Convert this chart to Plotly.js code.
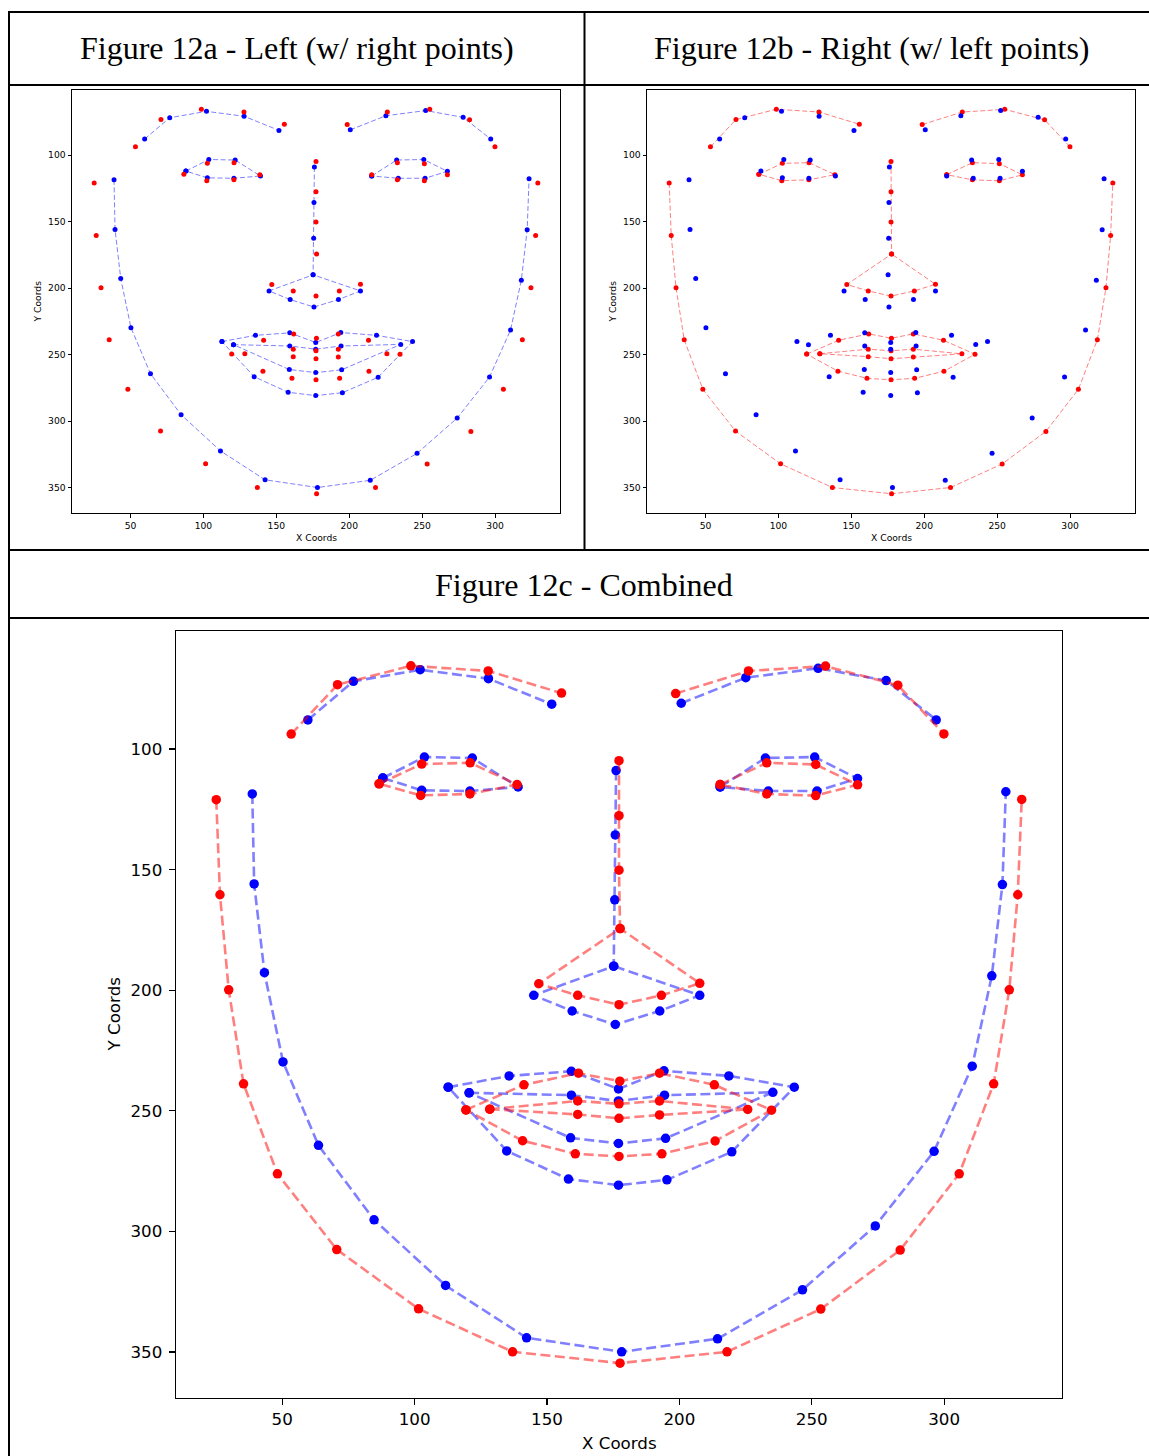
<!DOCTYPE html>
<html>
<head>
<meta charset="utf-8">
<script src="https://cdn.plot.ly/plotly-3.0.1.min.js"></script>
<style>
  html, body { margin: 0; padding: 0; background: #fff; }
  #chart { width: 1149px; height: 1456px; }
</style>
</head>
<body>
<div id="chart"></div>
<script>
// 68-point facial landmarks, left-based face (blue)
const leftX = [38.7, 39.4, 43.3, 50.3, 63.7, 84.7, 111.7, 142.3, 178.2, 214.4, 246.5, 274.0, 296.2, 310.6, 318.0, 322.0, 323.3,
  59.7, 76.9, 102.1, 127.9, 151.8, 200.7, 225.1, 252.4, 278.1, 297.0,
  176.1, 175.8, 175.6, 175.2, 145.0, 159.5, 175.8, 192.6, 207.7,
  88.0, 103.7, 121.8, 139.1, 120.9, 102.7, 215.4, 232.5, 251.1, 267.3, 252.0, 233.6,
  112.7, 135.7, 159.2, 177.0, 194.2, 218.7, 243.4, 219.8, 195.3, 177.0, 158.1, 134.8,
  120.6, 159.2, 177.0, 194.4, 235.3, 194.8, 177.0, 158.9];
const leftY = [118.6, 155.9, 192.7, 229.7, 264.3, 295.2, 322.4, 344.1, 349.9, 344.5, 324.2, 297.7, 266.8, 231.5, 194.0, 156.2, 117.7,
  87.9, 71.9, 67.1, 70.8, 81.4, 81.0, 70.4, 66.5, 71.6, 87.9,
  108.9, 135.6, 162.5, 190.0, 202.1, 208.6, 214.2, 208.6, 202.1,
  112.0, 103.3, 103.7, 115.7, 117.4, 117.1, 115.7, 103.7, 103.3, 112.2, 117.4, 117.4,
  240.2, 235.5, 233.6, 240.9, 233.4, 235.5, 240.2, 267.0, 278.6, 280.8, 278.3, 266.6,
  242.5, 243.5, 245.9, 243.5, 242.3, 261.4, 263.5, 261.2];

// 68-point facial landmarks, right-based face (red)
const rightX = [25.1, 26.5, 29.8, 35.4, 48.2, 70.6, 101.5, 137.0, 177.6, 218.0, 253.4, 283.4, 305.7, 318.7, 324.6, 327.8, 329.3,
  53.4, 70.9, 98.6, 127.8, 155.5, 198.6, 226.1, 255.2, 282.5, 299.9,
  177.2, 177.2, 177.2, 177.6, 146.9, 161.6, 177.2, 193.2, 207.7,
  86.6, 102.7, 121.0, 138.7, 120.9, 102.3, 215.4, 233.0, 251.5, 267.3, 251.5, 233.0,
  119.4, 141.3, 161.9, 177.5, 192.5, 213.2, 234.8, 213.5, 193.4, 177.2, 160.7, 140.8,
  128.4, 161.6, 177.2, 192.5, 225.8, 192.5, 177.2, 161.6];
const rightY = [121.0, 160.4, 199.8, 238.8, 276.1, 307.5, 332.1, 349.9, 354.6, 349.9, 332.2, 307.7, 276.1, 238.8, 199.8, 160.4, 120.9,
  93.8, 73.3, 65.5, 67.6, 76.8, 77.0, 67.6, 65.6, 73.5, 93.7,
  104.8, 127.6, 150.2, 174.4, 197.3, 202.1, 206.0, 202.1, 197.1,
  114.4, 106.2, 105.7, 114.7, 118.6, 119.2, 114.7, 105.7, 106.4, 114.8, 119.3, 118.6,
  249.6, 239.2, 234.4, 237.7, 234.4, 239.2, 249.7, 262.5, 267.8, 268.9, 267.8, 262.4,
  249.3, 245.9, 247.1, 245.9, 249.4, 251.7, 253.1, 251.5];

const xTicks = [50, 100, 150, 200, 250, 300];
const yTicks = [100, 150, 200, 250, 300, 350];

const panelTitles = ['Figure 12a - Left (w/ right points)', 'Figure 12b - Right (w/ left points)', 'Figure 12c - Combined'];
const xLabel = 'X Coords';
const yLabel = 'Y Coords';

// landmark chains joined by dashed lines
const seq = (a, b) => Array.from({length: b - a + 1}, (_, i) => a + i);
const groups = [
  seq(0, 16),                         // jaw
  seq(17, 21), seq(22, 26),           // brows
  [27, 28, 29, 30, 31, 32, 33, 34, 35, 30], // nose
  seq(36, 41).concat([36]),           // eye
  seq(42, 47).concat([42]),           // eye
  seq(48, 59).concat([48]),           // outer lip
  seq(60, 67).concat([60])            // inner lip
];

function chain(xs, ys) {
  const cx = [], cy = [];
  groups.forEach(g => {
    g.forEach(i => { cx.push(xs[i]); cy.push(ys[i]); });
    cx.push(null); cy.push(null);
  });
  return {x: cx, y: cy};
}

// page geometry helpers (pixels -> paper fraction)
const W = 1149, H = 1456;
const fx = p => p / W;
const fy = p => 1 - p / H;

// data limits with a 5% pad
function padded(a, b) {
  const all = a.concat(b);
  const lo = Math.min(...all), hi = Math.max(...all);
  const m = (hi - lo) * 0.05;
  return [lo - m, hi + m];
}
const xRange = padded(leftX, rightX);
const yRange = padded(leftY, rightY).reverse();

const BLUE = '#0000ff', RED = '#ff0000';
const BLUE_LINE = 'rgba(0,0,255,0.5)', RED_LINE = 'rgba(255,0,0,0.5)';

const small = {lw: 1, dash: '5px,2.5px', ms: 5, font: 9.2, ticklen: 3.5, axw: 1, ystand: 1.5};
const large = {lw: 2.6, dash: '10px,4.5px', ms: 9.5, font: 16.7, ticklen: 6, axw: 1.3, ystand: 3};

function lineTrace(xs, ys, col, lcol, st, xa, ya, name) {
  const c = chain(xs, ys);
  return {type: 'scatter', mode: 'lines+markers', x: c.x, y: c.y, xaxis: xa, yaxis: ya, name,
    line: {color: lcol, width: st.lw, dash: st.dash}, marker: {color: col, size: st.ms, line: {width: 0}},
    hoverinfo: 'skip', showlegend: false};
}
function pointTrace(xs, ys, col, st, xa, ya, name) {
  return {type: 'scatter', mode: 'markers', x: xs, y: ys, xaxis: xa, yaxis: ya, name,
    marker: {color: col, size: st.ms, line: {width: 0}}, hoverinfo: 'skip', showlegend: false};
}

const traces = [
  lineTrace(leftX, leftY, BLUE, BLUE_LINE, small, 'x', 'y', 'left'),
  pointTrace(rightX, rightY, RED, small, 'x', 'y', 'right points'),
  lineTrace(rightX, rightY, RED, RED_LINE, small, 'x2', 'y2', 'right'),
  pointTrace(leftX, leftY, BLUE, small, 'x2', 'y2', 'left points'),
  lineTrace(leftX, leftY, BLUE, BLUE_LINE, large, 'x3', 'y3', 'left'),
  lineTrace(rightX, rightY, RED, RED_LINE, large, 'x3', 'y3', 'right')
];

function axis(dom, rng, ticks, st, anchor, isY) {
  return {
    domain: dom, range: rng, anchor, tickmode: 'array', tickvals: ticks, ticktext: ticks.map(String),
    showgrid: false, zeroline: false, showline: true, mirror: true, linecolor: '#000', linewidth: st.axw,
    ticks: 'outside', ticklen: st.ticklen, tickwidth: st.axw, tickcolor: '#000',
    ticklabelstandoff: isY ? st.ystand : 0,
    tickfont: {family: 'DejaVu Sans', size: st.font, color: '#000'}, fixedrange: true
  };
}

// plot boxes in pixels: [left, right, top, bottom]
const boxA = [72, 560, 90, 513];
const boxB = [647, 1135, 90, 513];
const boxC = [176, 1062, 631, 1398];
const xd = b => [fx(b[0]), fx(b[1])];
const yd = b => [fy(b[3]), fy(b[2])];

const ann = (text, x, y, size, family, angle) => ({
  text, x: fx(x), y: fy(y), xref: 'paper', yref: 'paper', xanchor: 'center', yanchor: 'middle',
  showarrow: false, textangle: angle || 0, font: {family, size, color: '#000'}
});

const serif = 'Liberation Serif, Times New Roman, serif';
const sans = 'DejaVu Sans, sans-serif';

const annotations = [
  ann(panelTitles[0], 296.5, 48.5, 32, serif),
  ann(panelTitles[1], 871.5, 48.5, 32, serif),
  ann(panelTitles[2], 583.5, 584.5, 32, serif),
  ann(xLabel, (boxA[0] + boxA[1]) / 2, 537, 9.2, sans),
  ann(yLabel, 37, (boxA[2] + boxA[3]) / 2, 9.2, sans, -90),
  ann(xLabel, (boxB[0] + boxB[1]) / 2, 537, 9.2, sans),
  ann(yLabel, 612, (boxB[2] + boxB[3]) / 2, 9.2, sans, -90),
  ann(xLabel, (boxC[0] + boxC[1]) / 2, 1443, 16.7, sans),
  ann(yLabel, 113, (boxC[2] + boxC[3]) / 2, 16.7, sans, -90)
];

// table rules
const hline = (y, x0, x1) => ({type: 'line', xref: 'paper', yref: 'paper', x0: fx(x0), x1: fx(x1), y0: fy(y), y1: fy(y), line: {color: '#000', width: 2}});
const vline = (x, y0, y1) => ({type: 'line', xref: 'paper', yref: 'paper', x0: fx(x), x1: fx(x), y0: fy(y0), y1: fy(y1), line: {color: '#000', width: 2}});
const shapes = [
  hline(12, 8, 1160), hline(85, 8, 1160), hline(550, 8, 1160), hline(618, 8, 1160),
  vline(9, 11, 1460), vline(584.5, 11, 551)
];

const layout = {
  width: W, height: H, margin: {l: 0, r: 0, t: 0, b: 0},
  paper_bgcolor: '#fff', plot_bgcolor: '#fff', showlegend: false,
  xaxis: axis(xd(boxA), xRange, xTicks, small, 'y', false),
  yaxis: axis(yd(boxA), yRange, yTicks, small, 'x', true),
  xaxis2: axis(xd(boxB), xRange, xTicks, small, 'y2', false),
  yaxis2: axis(yd(boxB), yRange, yTicks, small, 'x2', true),
  xaxis3: axis(xd(boxC), xRange, xTicks, large, 'y3', false),
  yaxis3: axis(yd(boxC), yRange, yTicks, large, 'x3', true),
  annotations, shapes
};

Plotly.newPlot('chart', traces, layout, {staticPlot: true, displayModeBar: false});
</script>
</body>
</html>
